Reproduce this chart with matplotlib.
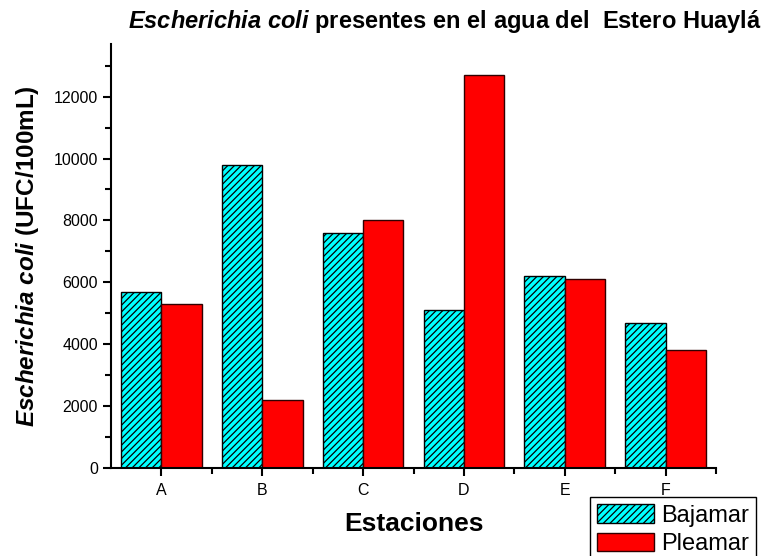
import matplotlib
matplotlib.use("Agg")
import matplotlib.pyplot as plt
import numpy as np
from matplotlib.ticker import MultipleLocator

plt.rcParams['font.family'] = ['Liberation Sans', 'DejaVu Sans']
plt.rcParams['mathtext.fontset'] = 'custom'
plt.rcParams['mathtext.rm'] = 'Liberation Sans'
plt.rcParams['mathtext.it'] = 'Liberation Sans:italic'
plt.rcParams['mathtext.bf'] = 'Liberation Sans:bold'
plt.rcParams['mathtext.bfit'] = 'Liberation Sans:italic:bold'
plt.rcParams['hatch.linewidth'] = 0.9

estaciones = ['A', 'B', 'C', 'D', 'E', 'F']
bajamar = [5700, 9800, 7600, 5100, 6200, 4700]
pleamar = [5300, 2200, 8000, 12700, 6100, 3800]

fig = plt.figure(figsize=(7.62, 5.56), dpi=100)
ax = fig.add_axes([111 / 762, 1 - 468 / 556, (716 - 111) / 762, (468 - 44) / 556])

x = np.arange(len(estaciones))
w = 0.4
ax.bar(x - w / 2, bajamar, width=w, color='#00FFFF', edgecolor='black',
       linewidth=1.0, hatch='/////', label='Bajamar', zorder=2)
ax.bar(x + w / 2, pleamar, width=w, color='#FF0000', edgecolor='#300000',
       linewidth=1.0, label='Pleamar', zorder=2)

ax.set_xlim(-0.5, 5.5)
ax.set_ylim(0, 13700)
ax.set_xticks(x)
ax.set_xticklabels(estaciones)
ax.set_xticks(x + 0.5, minor=True)
ax.yaxis.set_major_locator(MultipleLocator(2000))
ax.yaxis.set_minor_locator(MultipleLocator(1000))

for s in ('top', 'right'):
    ax.spines[s].set_visible(False)
for s in ('left', 'bottom'):
    ax.spines[s].set_linewidth(1.5)

ax.tick_params(axis='both', which='major', direction='out', length=6, width=1.5,
               labelsize=11.5)
ax.tick_params(axis='both', which='minor', direction='out', length=4, width=1.5)
ax.tick_params(axis='x', pad=5)

ax.set_xlabel('Estaciones', fontsize=19, fontweight='bold', labelpad=10)
ax.set_ylabel(r'$\mathbfit{Escherichia\ coli}$ (UFC/100mL)', fontsize=17.5,
              fontweight='bold', labelpad=9)

fig.text(128 / 762, 1 - 28 / 556,
         r'$\mathbfit{Escherichia\ coli}$ presentes en el agua del  Estero Huaylá',
         fontsize=17, fontweight='bold', ha='left', va='baseline')

leg = ax.legend(loc='upper left', bbox_to_anchor=(590 / 762, 1 - 497 / 556),
                bbox_transform=fig.transFigure, fontsize=17, frameon=True,
                fancybox=False, edgecolor='black', framealpha=1,
                handlelength=2.4, handleheight=0.85, handletextpad=0.3,
                labelspacing=0.25, borderpad=0.3, borderaxespad=0)
leg.get_frame().set_linewidth(1.0)

fig.savefig('out.png', dpi=100)
